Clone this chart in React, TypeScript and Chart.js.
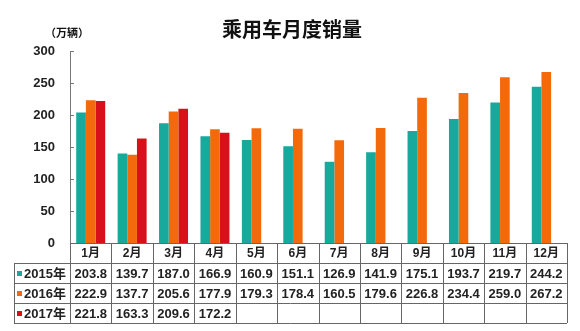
import React, { useEffect, useRef } from "react";
import { Chart, registerables } from "chart.js";

Chart.register(...registerables);

const categories = ["1月", "2月", "3月", "4月", "5月", "6月", "7月", "8月", "9月", "10月", "11月", "12月"];
const seriesNames = ["2015年", "2016年", "2017年"];
const sales2015 = [203.8, 139.7, 187.0, 166.9, 160.9, 151.1, 126.9, 141.9, 175.1, 193.7, 219.7, 244.2];
const sales2016 = [222.9, 137.7, 205.6, 177.9, 179.3, 178.4, 160.5, 179.6, 226.8, 234.4, 259.0, 267.2];
const sales2017: (number | null)[] = [221.8, 163.3, 209.6, 172.2, null, null, null, null, null, null, null, null];
const yTicks = [0, 50, 100, 150, 200, 250, 300];

const colors = ["#16a99c", "#f26a0c", "#d8101c"];
const FONT = "'Liberation Sans', Arial, 'Noto Sans CJK SC', sans-serif";
const CJK = "'Noto Sans CJK SC', sans-serif";

const tablePlugin = {
  id: "tablePlugin",
  afterDraw(chart: any) {
    const ctx = chart.ctx as CanvasRenderingContext2D;
    const area = chart.chartArea;
    const x = chart.scales.x;
    const y = chart.scales.y;
    const n = categories.length;
    const step = (area.right - area.left) / n;
    const rowH = 20;
    const top = area.bottom;
    const tableLeft = 14;
    const bottom = top + rowH * 4;

    ctx.save();
    // title
    ctx.fillStyle = "#111";
    ctx.font = `bold 20px ${CJK}`;
    ctx.textAlign = "center";
    ctx.textBaseline = "middle";
    ctx.fillText("乘用车月度销量", 292, 29);
    // unit
    ctx.font = `bold 11px ${CJK}`;
    ctx.fillText("（万辆）", 67, 33);

    // y ticks inward
    ctx.strokeStyle = "#777";
    ctx.lineWidth = 1;
    for (const t of yTicks) {
      const py = Math.round(y.getPixelForValue(t)) + 0.5;
      ctx.beginPath();
      ctx.moveTo(area.left, py);
      ctx.lineTo(area.left + 4, py);
      ctx.stroke();
    }

    // table lines
    ctx.strokeStyle = "#666";
    ctx.lineWidth = 1;
    const hl = (x1: number, x2: number, yy: number) => {
      ctx.beginPath();
      ctx.moveTo(x1, Math.round(yy) + 0.5);
      ctx.lineTo(x2, Math.round(yy) + 0.5);
      ctx.stroke();
    };
    const vl = (xx: number, y1: number, y2: number) => {
      ctx.beginPath();
      ctx.moveTo(Math.round(xx) + 0.5, y1);
      ctx.lineTo(Math.round(xx) + 0.5, y2);
      ctx.stroke();
    };
    hl(area.left, area.right, top);
    for (let r = 1; r <= 4; r++) hl(tableLeft, area.right, top + rowH * r);
    vl(tableLeft, top + rowH, bottom);
    for (let i = 0; i <= n; i++) vl(area.left + step * i, top, bottom);

    // header
    ctx.fillStyle = "#222";
    ctx.textAlign = "center";
    ctx.textBaseline = "middle";
    ctx.font = `bold 12px ${FONT}`;
    categories.forEach((c, i) => {
      const cx = x.getPixelForValue(i);
      ctx.fillText(c, cx, top + rowH / 2 + 1);
    });

    const data = [sales2015, sales2016, sales2017];
    data.forEach((arr, r) => {
      const cy = top + rowH * (r + 1) + rowH / 2 + 1;
      // legend marker
      ctx.fillStyle = colors[r];
      ctx.fillRect(17, cy - 3, 5, 5);
      ctx.fillStyle = "#222";
      ctx.textAlign = "left";
      ctx.font = `bold 13px ${FONT}`;
      ctx.fillText(seriesNames[r], 24, cy);
      ctx.textAlign = "center";
      arr.forEach((v, i) => {
        if (v === null || v === undefined) return;
        ctx.fillText(v.toFixed(1), x.getPixelForValue(i), cy);
      });
    });
    ctx.restore();
  },
};

export default function App() {
  const ref = useRef<HTMLCanvasElement>(null);
  useEffect(() => {
    document.body.style.margin = "0";
    const chart = new Chart(ref.current!, {
      type: "bar",
      data: {
        labels: categories,
        datasets: [
          { label: seriesNames[0], data: sales2015, backgroundColor: colors[0] },
          { label: seriesNames[1], data: sales2016, backgroundColor: colors[1] },
          { label: seriesNames[2], data: sales2017, backgroundColor: colors[2] },
        ],
      },
      options: {
        animation: false,
        responsive: false,
        events: [],
        layout: { padding: { left: 0, right: 13, top: 51, bottom: 88 } },
        datasets: { bar: { categoryPercentage: 0.7, barPercentage: 1.0 } },
        plugins: { legend: { display: false }, title: { display: false }, tooltip: { enabled: false } },
        scales: {
          x: { display: false, offset: true, grid: { display: false } },
          y: {
            min: 0,
            max: 300,
            ticks: {
              stepSize: 50,
              padding: 15,
              color: "#222",
              font: { family: FONT, size: 13, weight: "bold" },
            },
            grid: { display: false, drawTicks: false },
            border: { display: true, color: "#777", width: 1 },
            afterFit: (s: any) => {
              s.width = 70;
            },
          },
        },
      },
      plugins: [tablePlugin],
    } as any);
    return () => chart.destroy();
  }, []);
  return <canvas ref={ref} width={580} height={331} style={{ display: "block" }} />;
}
